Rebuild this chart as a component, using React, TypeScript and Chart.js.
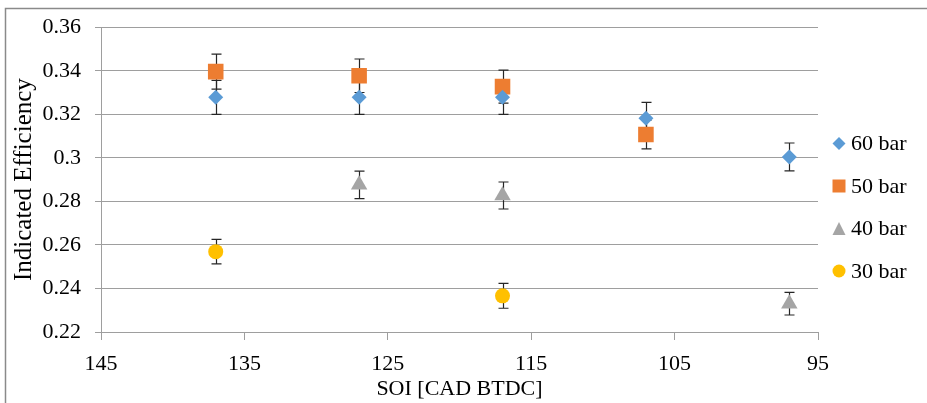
import React, { useEffect, useRef } from "react";
import { Chart, registerables } from "chart.js";
Chart.register(...registerables);

const seriesNames = ["60 bar", "50 bar", "40 bar", "30 bar"];

const soi60 = [137, 127, 117, 107, 97];
const eff60 = [0.3278, 0.3278, 0.3278, 0.3182, 0.3004];
const err60 = [0.0078, 0.0078, 0.0078, 0.0073, 0.0064];

const soi50 = [137, 127, 117, 107];
const eff50 = [0.3396, 0.3377, 0.3327, 0.3107];
const err50 = [0.008, 0.0077, 0.0076, 0.0066];

const soi40 = [127, 117, 97];
const eff40 = [0.2876, 0.2827, 0.233];
const err40 = [0.0063, 0.0062, 0.0052];

const soi30 = [137, 117];
const eff30 = [0.2569, 0.2366];
const err30 = [0.0056, 0.0057];

const xTitle = "SOI [CAD BTDC]";
const yTitle = "Indicated Efficiency";

const FONT = "'Liberation Serif', 'Times New Roman', serif";
const colors = ["#5B9BD5", "#ED7D31", "#A5A5A5", "#FFC000"];
const styles = ["rectRot", "rect", "triangle", "circle"];
const radii = [7.5, 11, 9.5, 7.5];

function pts(xs: number[], ys: number[]) {
  return xs.map((x, i) => ({ x, y: ys[i] }));
}

function drawMarker(ctx: CanvasRenderingContext2D, style: string, x: number, y: number, h: number) {
  ctx.beginPath();
  if (style === "rectRot") {
    ctx.moveTo(x, y - h);
    ctx.lineTo(x + h, y);
    ctx.lineTo(x, y + h);
    ctx.lineTo(x - h, y);
    ctx.closePath();
  } else if (style === "rect") {
    ctx.rect(x - h, y - h, 2 * h, 2 * h);
  } else if (style === "triangle") {
    ctx.moveTo(x, y - h);
    ctx.lineTo(x + h, y + h);
    ctx.lineTo(x - h, y + h);
    ctx.closePath();
  } else {
    ctx.arc(x, y, h, 0, Math.PI * 2);
  }
  ctx.fill();
}

const errorBarPlugin = {
  id: "errorBars",
  beforeDatasetsDraw(chart: any) {
    const ctx = chart.ctx;
    const xs = chart.scales.x;
    const ys = chart.scales.y;
    ctx.save();
    ctx.strokeStyle = "#262626";
    ctx.lineWidth = 1.2;
    chart.data.datasets.forEach((ds: any) => {
      ds.data.forEach((p: any, i: number) => {
        const e = ds.errors[i];
        const px = Math.round(xs.getPixelForValue(p.x)) + 0.5;
        const t = ys.getPixelForValue(p.y + e);
        const b = ys.getPixelForValue(p.y - e);
        ctx.beginPath();
        ctx.moveTo(px, t);
        ctx.lineTo(px, b);
        ctx.moveTo(px - 5, t);
        ctx.lineTo(px + 5, t);
        ctx.moveTo(px - 5, b);
        ctx.lineTo(px + 5, b);
        ctx.stroke();
      });
    });
    ctx.restore();
  },
};

const framePlugin = {
  id: "frame",
  beforeDraw(chart: any) {
    const ctx = chart.ctx;
    ctx.save();
    ctx.fillStyle = "#ffffff";
    ctx.fillRect(0, 0, chart.width, chart.height);
    ctx.strokeStyle = "#8a8a8a";
    ctx.lineWidth = 1.5;
    ctx.beginPath();
    ctx.moveTo(chart.width, 8.5);
    ctx.lineTo(5.5, 8.5);
    ctx.lineTo(5.5, chart.height);
    ctx.stroke();
    ctx.restore();
  },
};

const legendPlugin = {
  id: "customLegend",
  afterDraw(chart: any) {
    const ctx = chart.ctx;
    ctx.save();
    ctx.font = `22px ${FONT}`;
    ctx.textBaseline = "middle";
    ctx.textAlign = "left";
    chart.data.datasets.forEach((ds: any, i: number) => {
      const y = 143.5 + i * 42.5;
      ctx.fillStyle = ds.backgroundColor;
      drawMarker(ctx, ds.pointStyle, 839, y, 6.5);
      ctx.fillStyle = "#000";
      ctx.fillText(ds.label, 851, y + 1);
    });
    ctx.restore();
  },
};

export default function App() {
  const ref = useRef<HTMLCanvasElement | null>(null);
  useEffect(() => {
    if (!ref.current) return;
    const data = [
      [soi60, eff60, err60],
      [soi50, eff50, err50],
      [soi40, eff40, err40],
      [soi30, eff30, err30],
    ];
    const chart = new Chart(ref.current, {
      type: "scatter",
      data: {
        datasets: data.map((d, i) => ({
          label: seriesNames[i],
          data: pts(d[0], d[1]),
          errors: d[2],
          backgroundColor: colors[i],
          borderColor: colors[i],
          pointStyle: styles[i],
          pointRadius: radii[i],
          pointHoverRadius: radii[i],
          pointBorderWidth: 0,
          showLine: false,
        })) as any,
      },
      options: {
        animation: false,
        responsive: false,
        events: [],
        layout: { padding: { left: 0, right: 109, top: 25, bottom: 0 } },
        plugins: {
          legend: { display: false },
          tooltip: { enabled: false },
        },
        scales: {
          x: {
            type: "linear",
            min: 95,
            max: 145,
            reverse: true,
            afterFit: (s: any) => {
              s.height = 71;
            },
            ticks: {
              stepSize: 10,
              color: "#000",
              padding: 11,
              font: { family: FONT, size: 22 },
            },
            grid: {
              drawOnChartArea: false,
              drawTicks: true,
              tickLength: 8,
              color: "#9e9e9e",
            },
            border: { display: true, color: "#9e9e9e", width: 1 },
            title: {
              display: true,
              text: xTitle,
              color: "#000",
              font: { family: FONT, size: 22 },
              padding: { top: 1, bottom: 1 },
            },
          },
          y: {
            min: 0.22,
            max: 0.36,
            afterFit: (s: any) => {
              s.width = 101;
            },
            ticks: {
              stepSize: 0.02,
              color: "#000",
              padding: 14,
              font: { family: FONT, size: 22 },
              callback: (v: any) => String(parseFloat(Number(v).toFixed(2))),
            },
            grid: {
              color: "#9e9e9e",
              tickLength: 6,
              lineWidth: 1,
            },
            border: { display: true, color: "#9e9e9e", width: 1 },
            title: {
              display: true,
              text: yTitle,
              color: "#000",
              font: { family: FONT, size: 25 },
              padding: { top: 9, bottom: 4 },
            },
          },
        },
      },
      plugins: [framePlugin, errorBarPlugin, legendPlugin],
    });
    return () => chart.destroy();
  }, []);
  return (
    <div style={{ position: "absolute", left: 0, top: 0, width: 927, height: 403 }}>
      <canvas ref={ref} width={927} height={403} style={{ display: "block" }} />
    </div>
  );
}
